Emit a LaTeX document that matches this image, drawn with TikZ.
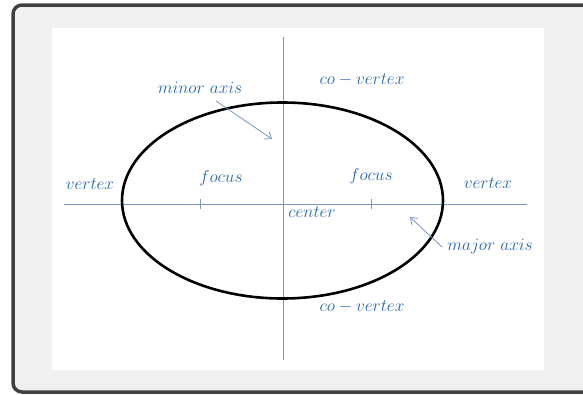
\documentclass[tikz,border=0pt]{standalone}
\usetikzlibrary{arrows.meta}
\definecolor{labelblue}{RGB}{36,104,172}
\definecolor{axisblue}{RGB}{120,152,196}
\definecolor{panelgray}{RGB}{240,240,240}
\definecolor{framegray}{RGB}{64,64,64}
\begin{document}
\begin{tikzpicture}[x=1pt, y=-1pt,
    lbl/.style={text=labelblue, inner sep=0pt, font=\LARGE},
    axisline/.style={axisblue, line width=0.8pt},
    pointer/.style={axisblue, line width=0.8pt, -{Straight Barb[length=6pt,width=9pt]}}]
    \useasboundingbox (0,0) rectangle (583,394);
    \clip (0,0) rectangle (583,394);
    % frame and sheet
    \draw[line width=3.5pt, draw=framegray, fill=panelgray, rounded corners=9pt] (13,5) rectangle (620,392);
    \fill[white] (52,28) rectangle (544,370);
    % axes
    \coordinate (xl) at (64,204); \coordinate (xr) at (527,204);
    \coordinate (yt) at (283,37); \coordinate (yb) at (283,360);
    \draw[axisline] (xl) -- (xr);
    \draw[axisline] (yt) -- (yb);
    % foci
    \coordinate (f1) at (200,204); \coordinate (f2) at (371,204);
    \draw[axisline] ([yshift=-5pt]f1) -- ([yshift=5pt]f1);
    \draw[axisline] ([yshift=-5pt]f2) -- ([yshift=5pt]f2);
    % ellipse
    \coordinate (o) at (282.5,200.5);
    \draw[line width=2.6pt] (o) ellipse [x radius=160.5, y radius=98];
    % labels
    \node[lbl] (vl) at (90,184) {$vertex$};
    \node[lbl] (fl) at (221,178) {$focus$};
    \node[lbl] (fr) at (371,176) {$focus$};
    \node[lbl] (vr) at (488,183) {$vertex$};
    \node[lbl] (ctr) at (312,212) {$center$};
    \node[lbl] (cvt) at (362,80) {$co-vertex$};
    \node[lbl] (cvb) at (362,307) {$co-vertex$};
    \node[lbl] (minax) at (200,88) {$minor\ axis$};
    \node[lbl] (majax) at (490,247) {$major\ axis$};
    % pointers
    \coordinate (minend) at (272,139);
    \coordinate (majend) at (410,217);
    \draw[pointer] (216,101) -- (minend);
    \draw[pointer] (442,247) -- (majend);
\end{tikzpicture}
\end{document}
